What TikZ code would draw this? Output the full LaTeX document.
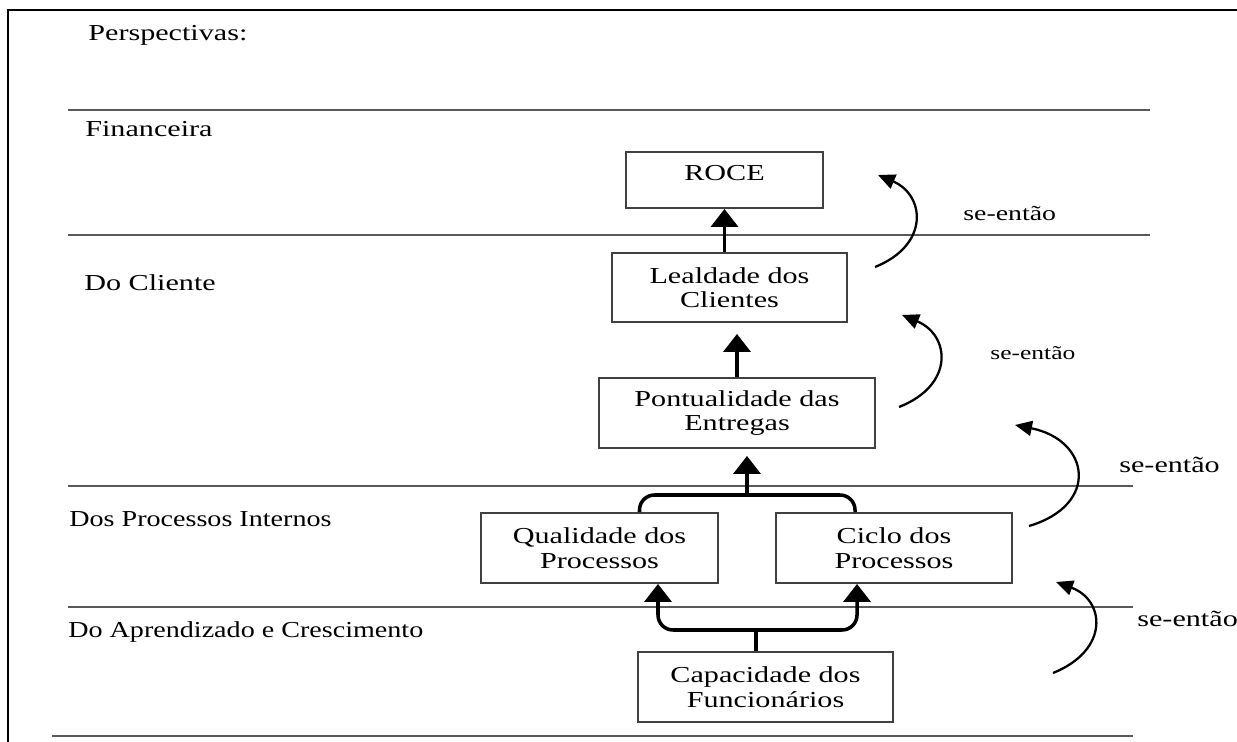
\documentclass[tikz,border=0pt]{standalone}
\usepackage{fontspec}
\setmainfont[FakeStretch=1.32]{Liberation Serif}
\newfontfamily\estreita[FakeStretch=1.23]{Liberation Serif}
\usetikzlibrary{arrows.meta}

\begin{document}
\begin{tikzpicture}[x=0.02cm, y=-0.02cm,
	font=\fontsize{13}{14}\selectfont,
	caixa/.style={draw=black!75, line width=1.1pt, align=center, inner sep=0pt},
	divisa/.style={draw=black!65, line width=1.1pt},
	seta/.style={line width=2pt, -{Triangle[length=0.36cm, width=0.54cm]}},
	chave/.style={line width=2pt, rounded corners=0.3cm},
	volta/.style={line width=1.3pt, -{Triangle[length=0.34cm, width=0.3cm]}},
	rotulo/.style={anchor=base west, inner sep=0pt}]
	\useasboundingbox (0,0) rectangle (1237,742);
	\draw[line width=1.6pt] (8,742) -- (8,10) -- (1237,10);
	
	% faixas das perspectivas
	\draw[divisa] (68,110) -- (1150,110);
	\draw[divisa] (68,235) -- (1150,235);
	\draw[divisa] (68,486) -- (1133,486);
	\draw[divisa] (68,607) -- (1133,607);
	\draw[divisa] (52,736) -- (1133,736);
	
	\node[rotulo] (persp) at (88,41) {Perspectivas:};
	\node[rotulo] (fin) at (85,137) {Financeira};
	\node[rotulo] (cli) at (84,291) {Do Cliente};
	\node[rotulo] (proc) at (69,527) {\estreita Dos Processos Internos};
	\node[rotulo] (apr) at (68,638) {\estreita Do Aprendizado e Crescimento};
	
	% caixas
	\node[caixa, minimum width=3.94cm, minimum height=1.12cm, text depth=0.3cm] (roce) at (724.5,180) {ROCE};
	\node[caixa, minimum width=4.7cm, minimum height=1.38cm] (leal) at (729.5,287.5) {Lealdade dos\\Clientes};
	\node[caixa, minimum width=5.52cm, minimum height=1.4cm] (pont) at (737,413) {Pontualidade das\\Entregas};
	\node[caixa, minimum width=4.74cm, minimum height=1.4cm] (qual) at (599.5,548) {Qualidade dos\\Processos};
	\node[caixa, minimum width=4.72cm, minimum height=1.4cm] (ciclo) at (894,548) {Ciclo dos\\Processos};
	\node[caixa, minimum width=5.1cm, minimum height=1.4cm] (cap) at (765.5,687) {Capacidade dos\\Funcionários};
	
	% ligacoes
	\draw[seta] (roce.south |- leal.north) -- (roce.south);
	\draw[seta, shorten >=0.22cm] (pont.north) -- (pont.north |- leal.south);
	\coordinate (juntacima) at (747,495);
	\draw[chave] ([xshift=0.8cm]qual.north) |- (juntacima) -| ([xshift=-0.78cm]ciclo.north);
	\draw[seta, shorten >=0.14cm] (juntacima) -- (juntacima |- pont.south);
	\coordinate (juntabaixo) at (756,630);
	\draw[line width=2pt] (juntabaixo |- cap.north) -- (juntabaixo);
	\draw[seta, rounded corners=0.3cm] (juntabaixo) -| ([xshift=1.17cm]qual.south);
	\draw[seta, rounded corners=0.3cm] (juntabaixo) -| ([xshift=-0.74cm]ciclo.south);
	
	% se-entao
	\coordinate (v1a) at (875,267); \coordinate (v1b) at (878,175);
	\coordinate (v2a) at (899,407); \coordinate (v2b) at (902,315);
	\coordinate (v3a) at (1029,526); \coordinate (v3b) at (1015,425);
	\coordinate (v4a) at (1053,673); \coordinate (v4b) at (1056,582);
	\draw[volta] (v1a) .. controls (930,245) and (925,195) .. (v1b);
	\draw[volta] (v2a) .. controls (955,385) and (950,335) .. (v2b);
	\draw[volta] (v3a) .. controls (1100,505) and (1090,440) .. (v3b);
	\draw[volta] (v4a) .. controls (1110,650) and (1105,600) .. (v4b);
	\node[rotulo, font=\fontsize{12}{14}\selectfont] (se1) at (963,221) {se-então};
	\node[rotulo, font=\fontsize{11}{14}\selectfont] (se2) at (990,360) {se-então};
	\node[rotulo] (se3) at (1119,473) {se-então};
	\node[rotulo] (se4) at (1137,626) {se-então};
\end{tikzpicture}
\end{document}
